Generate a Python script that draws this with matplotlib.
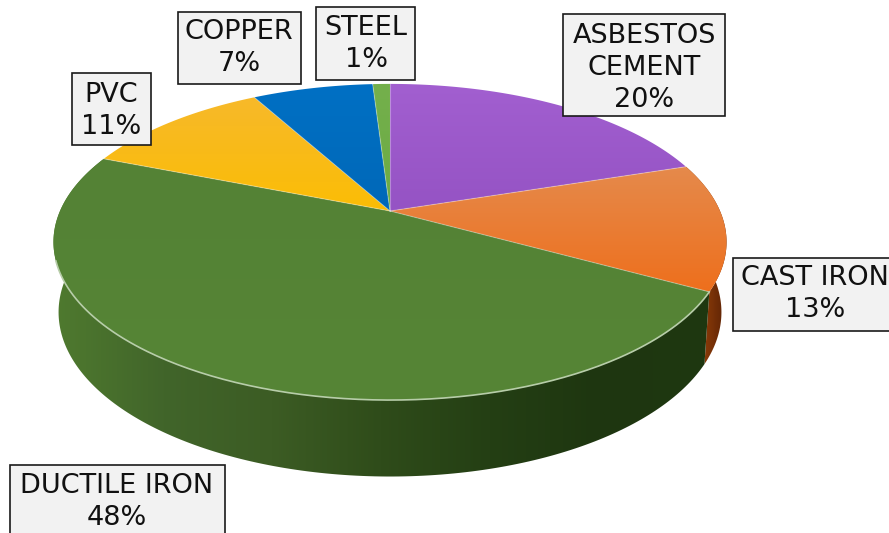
import numpy as np
import matplotlib
matplotlib.use("Agg")
import matplotlib.pyplot as plt
from matplotlib.colors import LinearSegmentedColormap
from matplotlib.patches import Polygon, Rectangle

materials = ["ASBESTOS\nCEMENT", "CAST IRON", "DUCTILE IRON", "PVC", "COPPER", "STEEL"]
shares = [20, 13, 48, 11, 7, 1]

# face colours, (far edge, near edge) of each slice
face_colors = [
    ("#a25fd0", "#9553c4"),
    ("#e58a4c", "#ee6f1c"),
    ("#548235", "#568536"),
    ("#f7b92a", "#fbbd05"),
    ("#0070c4", "#0068b8"),
    ("#74b04c", "#6cab44"),
]
# left to right shading along the outer wall
wall_colors = {
    1: ["#7a3208", "#8a3a08", "#5a2206"],
    2: ["#4f7a2f", "#41652a", "#3c5c24", "#2f4c1a", "#243f14", "#1e3610", "#1f3810"],
}
box_spots = [
    (563, 14, 162, 102),
    (733, 258, 170, 73),
    (10, 465, 215, 80),
    (71.5, 73, 79, 72),
    (177.5, 12, 123.5, 72),
    (316, 7, 99, 73),
]
label_spots = [(644, 68), (815, 294), (117, 502), (111, 111), (239, 48), (366, 44)]

CX, CY = 390, 211


def rim(theta, a=330, cy=CY, b=152, p=0.196):
    # theta runs clockwise from twelve o'clock, far side is drawn smaller
    den = 1 + p * np.cos(theta)
    return CX + a * np.sin(theta) / den, cy - b * np.cos(theta) / den


def shaded(ax, poly, colors, extent, vertical=True):
    cmap = LinearSegmentedColormap.from_list("shade", colors)
    ramp = np.linspace(0, 1, 256)
    ramp = ramp.reshape(-1, 1) if vertical else ramp.reshape(1, -1)
    im = ax.imshow(ramp, cmap=cmap, extent=extent, aspect="auto", origin="upper", zorder=poly.get_zorder())
    ax.add_patch(poly)
    poly.set_facecolor("none")
    poly.set_edgecolor("none")
    im.set_clip_path(poly)


fig = plt.figure(figsize=(8.89, 5.33), dpi=100)
ax = fig.add_axes([0, 0, 1, 1])

edges = np.radians(np.cumsum([0] + shares) * 3.6)

# outer wall, only cast iron and ductile iron are visible from the front
for i in wall_colors:
    th = np.linspace(edges[i], edges[i + 1], 200)
    x1, y1 = rim(th)
    x2, y2 = rim(th, a=325, cy=280, b=158)
    pts = np.column_stack([np.r_[x1, x2[::-1]], np.r_[y1, y2[::-1]]])
    extent = (pts[:, 0].min(), pts[:, 0].max(), 480, 80)
    shaded(ax, Polygon(pts, closed=True, zorder=2), wall_colors[i], extent, vertical=False)

# top faces
for i, (far, near) in enumerate(face_colors):
    th = np.linspace(edges[i], edges[i + 1], 200)
    x, y = rim(th)
    pts = np.column_stack([np.r_[CX, x], np.r_[CY, y]])
    extent = (pts[:, 0].min(), pts[:, 0].max(), pts[:, 1].max(), pts[:, 1].min())
    shaded(ax, Polygon(pts, closed=True, zorder=3), [far, near], extent)
    ax.plot(pts[:, 0][[0, 1]], pts[:, 1][[0, 1]], color="white", alpha=0.3, lw=0.8, zorder=4)

# light line along the front edge of the top face
th = np.linspace(edges[2], np.radians(252), 200)
ax.plot(*rim(th), color="#b7cda9", lw=1.2, zorder=4)

for name, share, (bx, by, bw, bh), (tx, ty) in zip(materials, shares, box_spots, label_spots):
    ax.add_patch(Rectangle((bx, by), bw, bh, facecolor="#f2f2f2", edgecolor="#1a1a1a", lw=1.2, zorder=5))
    ax.text(tx, ty, f"{name}\n{share}%", ha="center", va="center", fontsize=19.5, color="#111111",
            family="DejaVu Sans", linespacing=1.3, zorder=6)

ax.set_xlim(0, 889)
ax.set_ylim(533, 0)
ax.axis("off")
fig.savefig("out.png", dpi=100)
